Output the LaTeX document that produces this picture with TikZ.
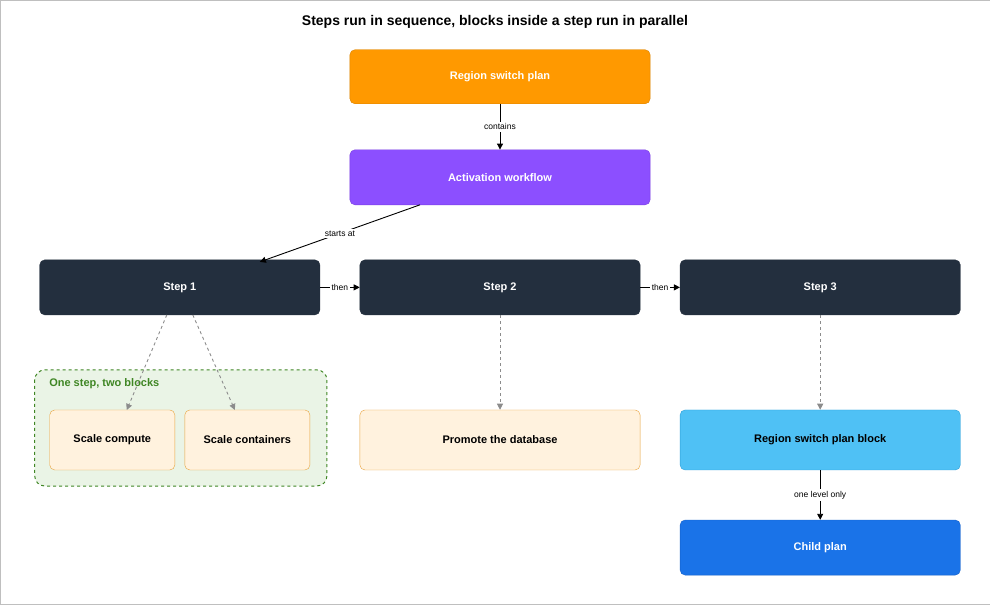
\documentclass[tikz,border=0pt]{standalone}
\usepackage{fontspec}
\setmainfont{Liberation Sans}
\usetikzlibrary{arrows.meta}
\definecolor{orng}{HTML}{FF9900}
\definecolor{orngb}{HTML}{D98200}
\definecolor{purp}{HTML}{8C4FFF}
\definecolor{purpb}{HTML}{7A3FE0}
\definecolor{dark}{HTML}{232F3E}
\definecolor{grpf}{HTML}{EAF4E6}
\definecolor{grpb}{HTML}{3F8624}
\definecolor{blkf}{HTML}{FFF2DE}
\definecolor{blkb}{HTML}{E8A33D}
\definecolor{lblue}{HTML}{4FC1F5}
\definecolor{lblueb}{HTML}{2E9FD8}
\definecolor{dblue}{HTML}{1A73E8}
\definecolor{dblueb}{HTML}{1560C8}
\begin{document}
\begin{tikzpicture}[x=1pt,y=-1pt,
  box/.style={rounded corners=5pt,minimum height=55pt,align=center,font=\bfseries\fontsize{11}{13}\selectfont,inner sep=0pt},
  arr/.style={-{Triangle[length=6pt,width=6pt]},black,line width=0.9pt},
  darr/.style={-{Triangle[length=6pt,width=6pt]},gray!90,dashed,line width=0.9pt},
  lab/.style={fill=white,font=\fontsize{8.5}{10}\selectfont,inner sep=2pt}]
\draw[gray!50,fill=white] (0.5,0.5) rectangle (989.5,604.5);
\node (title) at (495,22) {\bfseries\fontsize{14}{17}\selectfont Steps run in sequence, blocks inside a step run in parallel};
\node[box,fill=orng,draw=orngb,text=white,minimum width=300pt,minimum height=54pt] (rsp) at (500,77) {Region switch plan};
\node[box,fill=purp,draw=purpb,text=white,minimum width=300pt] (aw) at (500,177.5) {Activation workflow};
\node[box,fill=dark,draw=dark,text=white,minimum width=280pt] (s1) at (180,287.5) {Step 1};
\node[box,fill=dark,draw=dark,text=white,minimum width=280pt] (s2) at (500,287.5) {Step 2};
\node[box,fill=dark,draw=dark,text=white,minimum width=280pt] (s3) at (820,287.5) {Step 3};
\draw[grpb,fill=grpf,dashed,line width=1pt,rounded corners=10pt] (35,370) rectangle (327,486);
\node[anchor=west,text=grpb,font=\bfseries\fontsize{11}{13}\selectfont] (gl) at (46,384) {One step, two blocks};
\node[box,fill=blkf,draw=blkb,minimum width=125pt,minimum height=60pt] (sc) at (112.5,440) {Scale compute};
\node[box,fill=blkf,draw=blkb,minimum width=125pt,minimum height=60pt] (sco) at (247.5,440) {Scale containers};
\node[box,fill=blkf,draw=blkb,minimum width=280pt,minimum height=60pt] (pd) at (500,440) {Promote the database};
\node[box,fill=lblue,draw=lblueb,minimum width=280pt,minimum height=60pt] (rb) at (820,440) {Region switch plan block};
\node[box,fill=dblue,draw=dblueb,text=white,minimum width=280pt] (cp) at (820,547.5) {Child plan};
\draw[arr] (rsp) -- node[lab]{contains} (aw);
\draw[arr] (420,205) -- node[lab,pos=0.5]{starts at} (260,262);
\draw[arr] (s1) -- node[lab]{then} (s2);
\draw[arr] (s2) -- node[lab]{then} (s3);
\draw[darr] (167,315) -- (127,410);
\draw[darr] (193,315) -- (235,410);
\draw[darr] (s2) -- (pd);
\draw[darr] (s3) -- (rb);
\draw[arr] (rb) -- node[lab]{one level only} (cp);
\end{tikzpicture}
\end{document}
